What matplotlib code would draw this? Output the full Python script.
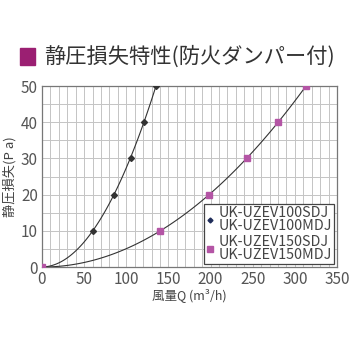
import numpy as np
import matplotlib.pyplot as plt
from matplotlib.patches import Rectangle

plt.rcParams['font.family'] = ['Noto Sans CJK JP', 'DejaVu Sans']

# data
q_100 = [0, 60, 85, 105, 121, 135]
p_100 = [0, 10, 20, 30, 40, 50]
q_150 = [0, 140, 198, 243, 280, 313]
p_150 = [0, 10, 20, 30, 40, 50]
label_100 = "UK-UZEV100SDJ\nUK-UZEV100MDJ"
label_150 = "UK-UZEV150SDJ\nUK-UZEV150MDJ"
title = "静圧損失特性(防火ダンパー付)"

fig = plt.figure(figsize=(3.5, 3.5), dpi=100)
ax = fig.add_axes([0.12, 0.237, 0.843, 0.517])

# smooth curves through the points (quadratic fit of the data)
for q, p in [(q_100, p_100), (q_150, p_150)]:
    c = np.polyfit(q, p, 2)
    qq = np.linspace(0, max(q), 100)
    ax.plot(qq, np.polyval(c, qq), color='#333333', lw=0.8, zorder=3)

ax.plot(q_100, p_100, 'D', color='#333333', ms=3, zorder=4, ls='none')
ax.plot(q_150, p_150, 's', color='#b455a5', ms=4.5, zorder=5, ls='none')

ax.set_xlim(0, 350)
ax.set_ylim(0, 50)
ax.set_xticks(np.arange(0, 351, 50))
ax.set_yticks(np.arange(0, 51, 10))
ax.set_xticks(np.arange(0, 351, 10), minor=True)
ax.set_yticks(np.arange(0, 51, 5), minor=True)
ax.grid(True, which='both', color='#c4c4c4', lw=0.7, zorder=0)
ax.tick_params(which='both', length=0, labelsize=11, colors='#555555', pad=3)
for s in ax.spines.values():
    s.set_color('#777777')
    s.set_linewidth(0.9)

ax.set_xlabel("風量Q (m³/h)", fontsize=9, color='#444444', labelpad=0)
ax.set_ylabel("静圧損失(P a)", fontsize=9.5, color='#444444', labelpad=3)

# legend handles
h1, = ax.plot([], [], 'D', color='#1f2d5a', ms=2.5)
h2, = ax.plot([], [], 's', color='#b455a5', ms=5)
leg = ax.legend([h1, h2], [label_100, label_150], loc='lower right',
                prop={'size': 10.3}, frameon=True, fancybox=False,
                framealpha=1, edgecolor='#444444', handlelength=0.6, handletextpad=0.3,
                borderpad=0.15, labelspacing=0.1, borderaxespad=0.2)
leg.get_frame().set_linewidth(0.9)
for t in leg.get_texts():
    t.set_color('#444444')
    t.set_linespacing(0.95)

# title with purple square
fig.patches.append(Rectangle((0.057, 0.815), 0.043, 0.047, transform=fig.transFigure,
                             color='#9b1f72', figure=fig))
fig.text(0.125, 0.838, title, fontsize=15.3, color='#333333', va='center', ha='left')

fig.savefig('out.png', dpi=100)
